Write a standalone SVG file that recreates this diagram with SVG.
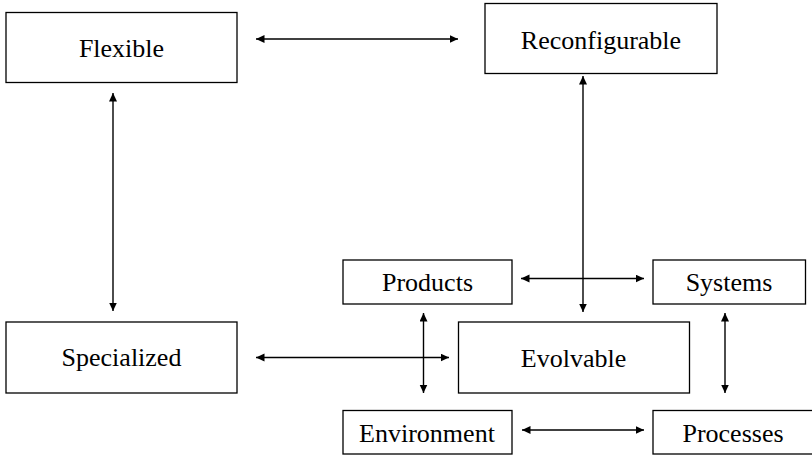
<svg xmlns="http://www.w3.org/2000/svg" width="812" height="457" viewBox="0 0 812 457">
  <style>
    .box rect { fill: #ffffff; stroke: #000000; stroke-width: 1.3; }
    .box text { font-family: "Liberation Serif", "Times New Roman", Times, Tinos, "Nimbus Roman", "Noto Serif", "DejaVu Serif", FreeSerif, serif; font-size: 26px; fill: #000000; text-anchor: middle; }
    .link { stroke: #000000; stroke-width: 1.4; fill: none; marker-start: url(#head); marker-end: url(#head); }
  </style>
  <defs>
    <marker id="head" markerUnits="userSpaceOnUse" markerWidth="10" markerHeight="9" refX="8.5" refY="4" orient="auto-start-reverse">
      <path d="M0,0 L8.5,4 L0,8 z" fill="#000000"/>
    </marker>
  </defs>
  <rect width="812" height="457" fill="#ffffff"/>

  <g id="connectors">
    <line class="link" x1="256" y1="39" x2="458" y2="39"/>
    <line class="link" x1="113" y1="93" x2="113" y2="311"/>
    <line class="link" x1="583" y1="76" x2="583" y2="312"/>
    <line class="link" x1="256" y1="357.5" x2="449" y2="357.5"/>
    <line class="link" x1="521" y1="278.5" x2="644" y2="278.5"/>
    <line class="link" x1="423.5" y1="313" x2="423.5" y2="393"/>
    <line class="link" x1="725" y1="313" x2="725" y2="393"/>
    <line class="link" x1="522" y1="430" x2="644" y2="430"/>
  </g>

  <g id="flexible" class="box">
    <rect x="6" y="12.5" width="231" height="70"/>
    <text x="121.5" y="57">Flexible</text>
  </g>
  <g id="reconfigurable" class="box">
    <rect x="485" y="3.5" width="232" height="70"/>
    <text x="601" y="49">Reconfigurable</text>
  </g>
  <g id="specialized" class="box">
    <rect x="6" y="322" width="231" height="71"/>
    <text x="121.5" y="366">Specialized</text>
  </g>
  <g id="products" class="box">
    <rect x="343" y="260" width="169" height="44"/>
    <text x="427.5" y="291">Products</text>
  </g>
  <g id="systems" class="box">
    <rect x="653" y="260" width="152.5" height="44"/>
    <text x="729" y="291">Systems</text>
  </g>
  <g id="evolvable" class="box">
    <rect x="458.5" y="322" width="231" height="71"/>
    <text x="573.5" y="367">Evolvable</text>
  </g>
  <g id="environment" class="box">
    <rect x="343" y="410.5" width="169" height="43.5"/>
    <text x="427" y="441.5">Environment</text>
  </g>
  <g id="processes" class="box">
    <rect x="653" y="410.5" width="170" height="43.5"/>
    <text x="733" y="441.5">Processes</text>
  </g>
</svg>
